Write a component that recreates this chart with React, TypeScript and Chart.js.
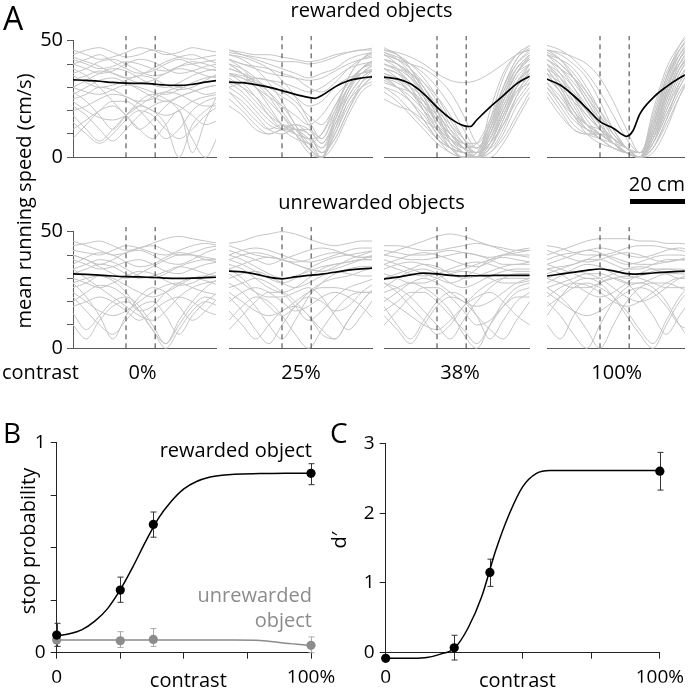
import React, { useEffect, useRef } from "react";
import { Chart, registerables } from "chart.js";

Chart.register(...registerables);
Chart.defaults.font.family = "'Open Sans', sans-serif";

// ---------------- Panel A data ----------------
const traceCm = [-20, -15, -10, -5, 0, 5, 10, 15, 20, 25, 30, 35];
const meanCm = [-20, -15, -10, -5, 0, 5, 10, 12.5, 15, 20, 25, 30, 35];
const objectEdgesCm = [0, 11];
const dashTop = 52;
const contrastNames = ["0%", "25%", "38%", "100%"];
const speedTickLabels = [0, 50];

const rewMean0 = [33.2, 33.0, 32.6, 32.1, 31.8, 31.7, 31.5, 31.2, 31.0, 30.8, 31.3, 32.2, 33.0];
const rewMean25 = [32.2, 32.0, 31.2, 30.1, 28.6, 27.0, 25.7, 25.3, 26.5, 30.2, 32.8, 34.0, 34.6];
const rewMean38 = [34.4, 33.6, 31.5, 27.2, 21.5, 16.7, 13.6, 13.2, 16.0, 21.5, 26.4, 31.5, 34.8];
const rewMean100 = [33.5, 31.0, 26.5, 21.0, 15.3, 12.5, 9.0, 11.5, 18.5, 25.5, 30.2, 34.0, 37.0];
const unrMean0 = [31.9, 31.7, 31.4, 31.0, 30.7, 30.6, 30.4, 30.3, 30.1, 30.0, 30.1, 30.3, 30.5];
const unrMean25 = [33.1, 32.8, 31.8, 30.5, 29.8, 30.6, 31.3, 31.5, 31.8, 32.6, 33.5, 34.1, 34.4];
const unrMean38 = [29.7, 30.5, 31.5, 32.2, 31.9, 31.3, 31.0, 31.1, 31.1, 31.2, 31.3, 31.3, 31.3];
const unrMean100 = [31.0, 31.8, 32.6, 33.4, 34.0, 33.2, 32.0, 31.8, 31.9, 32.3, 32.7, 33.0, 33.2];

const rewTraces0 = [
  [44, 46, 47, 45, 43, 44, 46, 45, 43, 42, 43, 44],
  [40, 38, 36, 37, 40, 42, 41, 38, 36, 37, 39, 40],
  [36, 38, 41, 42, 40, 37, 35, 36, 39, 41, 40, 38],
  [30, 28, 27, 29, 31, 30, 28, 27, 29, 32, 34, 35],
  [25, 27, 30, 29, 26, 24, 25, 28, 30, 29, 27, 28],
  [20, 22, 25, 27, 26, 23, 20, 18, 20, 24, 26, 27],
  [15, 10, 6, 10, 16, 20, 18, 12, 8, 12, 18, 22],
  [38, 35, 30, 24, 18, 12, 16, 22, 26, 28, 30, 31],
  [46, 44, 42, 43, 45, 47, 46, 44, 45, 47, 46, 45],
  [33, 35, 37, 36, 34, 32, 33, 36, 38, 37, 35, 34],
  [28, 24, 18, 12, 18, 24, 27, 25, 20, 8, 0, 10],
  [22, 18, 12, 7, 12, 18, 22, 24, 22, 18, 14, 16],
  [42, 40, 38, 39, 41, 40, 38, 37, 39, 40, 41, 42],
  [18, 12, 7, 12, 18, 22, 20, 14, 0, 14, 20, 24],
  [35, 32, 30, 31, 33, 35, 34, 31, 29, 30, 33, 36],
  [27, 30, 33, 34, 32, 29, 26, 24, 26, 28, 30, 31],
  [12, 16, 20, 22, 18, 12, 8, 14, 20, 2, 16, 28],
  [40, 42, 44, 41, 38, 36, 37, 40, 42, 40, 38, 37],
  [30, 33, 36, 38, 37, 34, 31, 30, 32, 35, 37, 38],
  [24, 20, 17, 16, 18, 22, 26, 28, 27, 24, 22, 22],
  [43, 41, 39, 36, 34, 35, 38, 41, 43, 44, 42, 40],
  [8, 14, 20, 24, 24, 20, 14, 8, 12, 20, 24, 26],
];

const rewTraces25 = [
  [45, 44, 43, 42, 41, 41, 40, 41, 43, 45, 46, 46],
  [42, 40, 38, 36, 35, 34, 33, 34, 37, 40, 42, 43],
  [38, 36, 34, 33, 32, 30, 28, 30, 34, 38, 40, 41],
  [35, 34, 30, 26, 22, 18, 14, 18, 26, 32, 36, 38],
  [40, 36, 30, 24, 18, 12, 6, 10, 22, 32, 38, 40],
  [32, 28, 22, 16, 12, 10, 4, 0, 14, 26, 34, 38],
  [30, 26, 20, 14, 12, 12, 10, 2, 10, 24, 32, 36],
  [44, 42, 38, 32, 24, 14, 6, 0, 12, 28, 38, 42],
  [36, 32, 26, 18, 12, 8, 6, 2, 8, 20, 30, 35],
  [28, 22, 16, 12, 14, 12, 8, 0, 6, 18, 28, 32],
  [46, 45, 44, 44, 43, 42, 41, 42, 44, 45, 46, 47],
  [38, 36, 32, 28, 22, 14, 4, 0, 16, 30, 38, 42],
  [25, 20, 14, 10, 12, 14, 10, 4, 12, 24, 30, 33],
  [42, 40, 39, 38, 36, 34, 30, 28, 32, 38, 42, 44],
  [34, 30, 24, 18, 14, 10, 4, 0, 10, 22, 30, 36],
  [30, 32, 34, 33, 30, 26, 22, 24, 30, 34, 36, 37],
  [40, 38, 34, 28, 20, 12, 8, 10, 20, 30, 36, 40],
  [22, 18, 12, 10, 12, 14, 12, 6, 14, 26, 34, 38],
  [44, 43, 41, 38, 33, 26, 16, 8, 20, 34, 42, 46],
  [36, 35, 33, 30, 28, 24, 18, 14, 22, 32, 38, 41],
  [40, 36, 30, 22, 14, 10, 8, 4, 16, 30, 38, 42],
  [33, 30, 26, 20, 14, 12, 10, 2, 8, 20, 32, 38],
  [46, 44, 42, 40, 38, 36, 34, 36, 38, 42, 44, 45],
  [28, 24, 18, 12, 10, 12, 12, 8, 18, 30, 36, 38],
  [42, 38, 32, 26, 18, 10, 2, 0, 18, 34, 42, 45],
  [36, 34, 32, 30, 26, 22, 14, 6, 16, 28, 36, 40],
];

const rewTraces38 = [
  [46, 45, 43, 40, 36, 33, 32, 33, 36, 40, 44, 46],
  [42, 40, 35, 28, 18, 8, 2, 0, 10, 26, 38, 44],
  [45, 42, 36, 26, 14, 4, 0, 2, 14, 30, 42, 47],
  [38, 34, 28, 20, 12, 6, 2, 0, 8, 22, 34, 40],
  [35, 30, 24, 16, 8, 2, 0, 0, 6, 18, 30, 36],
  [44, 42, 38, 32, 24, 14, 6, 2, 10, 24, 36, 43],
  [30, 26, 20, 14, 8, 4, 2, 0, 4, 16, 28, 35],
  [40, 38, 34, 28, 20, 10, 4, 0, 12, 28, 40, 46],
  [47, 44, 38, 30, 20, 10, 4, 2, 8, 20, 32, 40],
  [33, 30, 26, 20, 14, 8, 4, 2, 6, 14, 24, 32],
  [42, 38, 30, 20, 10, 4, 2, 0, 10, 24, 36, 42],
  [36, 34, 30, 26, 20, 14, 8, 4, 10, 24, 36, 44],
  [28, 24, 18, 12, 6, 2, 0, 0, 6, 20, 32, 38],
  [45, 43, 40, 36, 30, 22, 12, 4, 14, 30, 42, 48],
  [38, 36, 32, 24, 14, 6, 2, 0, 4, 14, 26, 34],
  [32, 30, 28, 24, 18, 12, 6, 2, 8, 20, 30, 36],
  [44, 40, 34, 26, 16, 8, 4, 6, 16, 30, 40, 45],
  [25, 22, 20, 16, 12, 8, 4, 0, 6, 18, 28, 32],
  [40, 37, 32, 24, 16, 10, 6, 4, 12, 26, 38, 44],
  [46, 44, 40, 34, 26, 16, 8, 2, 6, 18, 30, 38],
  [34, 32, 28, 22, 16, 10, 6, 6, 14, 28, 38, 42],
  [42, 40, 36, 30, 22, 12, 4, 0, 2, 10, 22, 30],
  [38, 36, 30, 22, 12, 4, 0, 0, 2, 8, 18, 28],
  [44, 42, 40, 38, 34, 28, 18, 6, 4, 12, 26, 38],
  [30, 28, 24, 18, 10, 4, 0, 2, 12, 26, 36, 40],
  [46, 44, 38, 28, 18, 8, 2, 0, 16, 34, 44, 48],
  [40, 38, 36, 32, 26, 18, 8, 0, 0, 6, 16, 26],
  [36, 33, 28, 22, 16, 10, 4, 0, 20, 36, 44, 46],
  [42, 40, 36, 30, 20, 6, 0, 0, 4, 16, 30, 40],
  [34, 30, 24, 16, 8, 4, 2, 2, 10, 22, 32, 38],
];

const rewTraces100 = [
  [44, 40, 34, 26, 18, 10, 4, 0, 10, 28, 42, 50],
  [40, 34, 26, 18, 12, 6, 2, 0, 8, 26, 40, 48],
  [36, 28, 18, 12, 10, 6, 2, 0, 12, 30, 44, 52],
  [45, 42, 36, 28, 18, 8, 2, 0, 6, 22, 36, 46],
  [30, 22, 14, 10, 8, 6, 4, 0, 10, 26, 38, 46],
  [42, 38, 32, 24, 14, 6, 2, 0, 14, 32, 46, 54],
  [38, 30, 20, 12, 8, 4, 2, 2, 16, 34, 46, 52],
  [34, 28, 20, 14, 10, 6, 2, 0, 6, 20, 34, 42],
  [46, 44, 40, 34, 24, 12, 4, 0, 8, 24, 38, 46],
  [28, 20, 12, 10, 10, 8, 4, 0, 10, 28, 42, 50],
  [40, 36, 30, 22, 14, 8, 4, 2, 8, 20, 32, 40],
  [44, 42, 38, 30, 20, 10, 4, 0, 18, 36, 46, 52],
  [32, 26, 18, 12, 8, 4, 2, 0, 4, 16, 28, 36],
  [42, 36, 26, 16, 10, 6, 2, 0, 10, 28, 42, 50],
  [38, 34, 28, 20, 12, 6, 2, 0, 12, 30, 42, 48],
  [46, 45, 43, 40, 34, 24, 12, 2, 6, 18, 30, 40],
  [26, 18, 12, 10, 10, 8, 4, 2, 14, 32, 44, 50],
  [40, 32, 22, 14, 10, 6, 2, 0, 8, 24, 38, 46],
  [36, 32, 26, 20, 14, 8, 4, 0, 16, 34, 44, 50],
  [44, 38, 30, 20, 12, 6, 2, 0, 4, 14, 26, 36],
  [34, 30, 24, 18, 12, 8, 4, 2, 10, 26, 38, 44],
  [48, 46, 42, 36, 28, 18, 8, 2, 10, 28, 42, 50],
  [40, 34, 24, 14, 8, 4, 2, 0, 2, 12, 26, 38],
  [46, 42, 34, 24, 16, 10, 4, 0, 20, 38, 48, 54],
  [32, 24, 16, 12, 10, 6, 2, 0, 8, 22, 36, 44],
  [44, 40, 34, 26, 16, 6, 2, 0, 4, 16, 32, 44],
  [38, 30, 20, 14, 12, 8, 4, 0, 14, 30, 40, 46],
  [42, 38, 34, 28, 20, 12, 4, 0, 12, 34, 48, 56],
  [30, 24, 18, 14, 10, 6, 2, 0, 6, 18, 30, 40],
  [36, 28, 18, 10, 6, 4, 2, 0, 10, 26, 40, 48],
];

const unrTraces0 = [
  [44, 45, 46, 44, 42, 43, 45, 47, 48, 47, 46, 45],
  [40, 38, 36, 38, 41, 42, 40, 37, 36, 38, 41, 43],
  [36, 39, 41, 40, 37, 35, 36, 39, 41, 40, 38, 37],
  [30, 28, 26, 28, 31, 33, 32, 29, 27, 28, 31, 33],
  [26, 28, 31, 30, 27, 24, 22, 24, 27, 30, 31, 30],
  [20, 24, 27, 26, 22, 16, 18, 24, 28, 30, 29, 27],
  [15, 8, 14, 20, 22, 18, 10, 2, 10, 18, 22, 20],
  [34, 30, 26, 22, 18, 14, 12, 16, 22, 26, 28, 29],
  [22, 16, 10, 6, 12, 18, 20, 14, 6, 14, 20, 24],
  [42, 41, 40, 42, 44, 43, 41, 40, 42, 44, 45, 44],
  [28, 22, 14, 4, 14, 22, 26, 24, 18, 12, 16, 22],
  [38, 36, 34, 35, 37, 38, 36, 33, 32, 34, 36, 37],
  [10, 4, 12, 18, 20, 16, 8, 0, 8, 16, 20, 18],
  [32, 34, 36, 35, 32, 30, 31, 33, 35, 34, 32, 31],
  [18, 20, 22, 20, 16, 12, 16, 20, 22, 20, 16, 14],
  [46, 44, 42, 40, 41, 43, 44, 42, 40, 41, 43, 44],
  [34, 36, 38, 37, 34, 31, 30, 32, 35, 37, 38, 38],
  [24, 20, 16, 14, 16, 20, 24, 27, 28, 26, 24, 23],
  [40, 38, 35, 32, 30, 32, 35, 38, 40, 40, 39, 38],
  [28, 30, 31, 29, 24, 16, 8, 2, 12, 20, 26, 30],
];

const unrTraces25 = [
  [45, 46, 48, 49, 50, 49, 47, 45, 44, 45, 46, 46],
  [42, 40, 38, 36, 38, 40, 42, 43, 42, 40, 39, 40],
  [38, 36, 33, 30, 28, 30, 34, 37, 39, 40, 41, 42],
  [34, 30, 24, 18, 14, 18, 24, 28, 30, 31, 33, 35],
  [28, 24, 18, 10, 4, 12, 22, 28, 32, 34, 35, 35],
  [22, 16, 8, 2, 10, 18, 22, 20, 16, 18, 24, 28],
  [40, 42, 43, 42, 40, 38, 37, 38, 40, 42, 43, 43],
  [30, 32, 33, 31, 28, 26, 28, 31, 33, 32, 31, 31],
  [16, 10, 4, 10, 16, 18, 14, 6, 4, 12, 20, 26],
  [36, 34, 30, 26, 24, 26, 30, 34, 36, 37, 38, 38],
  [44, 42, 40, 39, 38, 36, 34, 33, 35, 38, 40, 42],
  [26, 28, 30, 28, 24, 18, 12, 16, 22, 26, 28, 30],
  [12, 18, 22, 20, 14, 6, 0, 8, 16, 22, 24, 24],
  [32, 28, 24, 22, 22, 24, 26, 22, 14, 8, 14, 22],
  [38, 40, 41, 40, 38, 37, 38, 40, 41, 40, 39, 39],
  [20, 24, 26, 24, 20, 16, 18, 22, 24, 22, 18, 12],
  [34, 36, 38, 39, 38, 36, 34, 33, 34, 36, 38, 40],
  [24, 20, 16, 14, 16, 20, 24, 26, 26, 25, 24, 24],
  [40, 38, 35, 32, 30, 31, 33, 35, 36, 37, 38, 38],
  [8, 14, 20, 24, 24, 20, 14, 8, 4, 12, 20, 26],
];

const unrTraces38 = [
  [40, 42, 44, 46, 48, 49, 48, 46, 44, 42, 40, 39],
  [36, 38, 40, 41, 40, 38, 36, 35, 37, 40, 42, 43],
  [30, 32, 34, 36, 35, 32, 30, 31, 33, 35, 36, 36],
  [26, 30, 33, 34, 32, 28, 26, 28, 31, 33, 34, 34],
  [22, 18, 14, 10, 8, 12, 18, 22, 24, 20, 14, 10],
  [18, 10, 4, 12, 20, 24, 22, 14, 4, 12, 20, 24],
  [34, 36, 37, 36, 34, 33, 34, 36, 38, 39, 38, 37],
  [28, 26, 22, 16, 10, 4, 12, 20, 26, 30, 32, 32],
  [14, 8, 2, 10, 18, 22, 20, 14, 8, 4, 12, 20],
  [42, 41, 40, 40, 41, 42, 41, 40, 39, 40, 41, 42],
  [38, 36, 34, 32, 30, 28, 30, 34, 38, 40, 40, 40],
  [24, 26, 28, 26, 22, 16, 6, 0, 10, 20, 26, 28],
  [10, 16, 22, 26, 26, 22, 16, 10, 12, 18, 22, 22],
  [32, 30, 28, 28, 30, 32, 33, 32, 30, 28, 28, 29],
  [20, 24, 28, 30, 28, 24, 20, 18, 20, 24, 28, 30],
  [44, 44, 43, 42, 42, 43, 44, 45, 44, 43, 42, 42],
  [36, 34, 32, 31, 32, 34, 36, 37, 36, 34, 33, 33],
  [28, 24, 18, 12, 6, 10, 18, 24, 28, 30, 30, 30],
  [40, 39, 38, 38, 39, 40, 41, 40, 38, 36, 36, 37],
  [16, 20, 24, 24, 20, 14, 8, 2, 10, 18, 24, 26],
];

const unrTraces100 = [
  [40, 42, 44, 46, 47, 47, 47, 46, 46, 45, 45, 44],
  [36, 38, 40, 42, 41, 38, 36, 37, 39, 40, 40, 39],
  [32, 34, 36, 38, 38, 36, 34, 34, 36, 38, 38, 37],
  [28, 31, 34, 36, 35, 32, 30, 31, 33, 34, 34, 33],
  [20, 14, 6, 0, 10, 20, 26, 28, 26, 20, 10, 2],
  [26, 28, 30, 32, 32, 30, 28, 28, 30, 32, 32, 31],
  [14, 22, 28, 30, 28, 22, 14, 6, 0, 10, 20, 26],
  [34, 35, 36, 38, 40, 39, 37, 36, 36, 37, 38, 38],
  [24, 20, 16, 14, 16, 20, 24, 26, 24, 18, 10, 8],
  [38, 40, 41, 42, 43, 42, 40, 39, 40, 42, 43, 42],
  [30, 32, 33, 32, 30, 26, 22, 20, 22, 26, 30, 32],
  [18, 22, 26, 28, 26, 22, 16, 8, 2, 12, 22, 28],
  [42, 40, 38, 37, 38, 40, 41, 40, 38, 37, 38, 40],
  [10, 4, 14, 22, 28, 30, 28, 22, 14, 6, 14, 22],
  [36, 34, 32, 30, 30, 32, 34, 35, 34, 32, 30, 30],
  [22, 26, 28, 27, 24, 20, 18, 20, 24, 28, 30, 30],
  [44, 43, 41, 40, 40, 41, 43, 44, 44, 43, 42, 41],
  [30, 28, 26, 26, 28, 30, 31, 30, 28, 26, 26, 27],
  [26, 22, 16, 8, 0, 10, 20, 26, 28, 28, 26, 24],
  [34, 32, 28, 24, 22, 24, 28, 32, 34, 34, 33, 32],
];

// ---------------- Panel B / C data ----------------
const contrastLevels = [0, 25, 38, 100];
const stopRewarded = [0.084, 0.298, 0.611, 0.854];
const stopRewardedLo = [0.03, 0.24, 0.55, 0.8];
const stopRewardedHi = [0.14, 0.36, 0.67, 0.9];
const stopUnrewarded = [0.06, 0.057, 0.063, 0.035];
const stopUnrewardedLo = [0.03, 0.025, 0.03, 0.0];
const stopUnrewardedHi = [0.09, 0.1, 0.115, 0.075];
const stopFitX = [0, 5, 10, 15, 20, 25, 30, 35, 40, 45, 50, 55, 60, 65, 70, 80, 90, 100];
const stopFitRewarded = [0.08, 0.09, 0.11, 0.15, 0.21, 0.3, 0.41, 0.53, 0.64, 0.72, 0.78, 0.815, 0.835, 0.845, 0.85, 0.853, 0.855, 0.855];
const stopFitUnrewarded = [0.06, 0.06, 0.06, 0.06, 0.06, 0.06, 0.06, 0.06, 0.06, 0.06, 0.06, 0.06, 0.06, 0.06, 0.06, 0.058, 0.045, 0.035];

const dPrime = [-0.08, 0.07, 1.15, 2.6];
const dPrimeLo = [-0.08, -0.105, 0.95, 2.33];
const dPrimeHi = [-0.08, 0.25, 1.34, 2.87];
const dFitX = [0, 5, 10, 15, 20, 25, 30, 35, 40, 45, 50, 55, 60, 70, 80, 90, 100];
const dFit = [-0.08, -0.08, -0.08, -0.07, -0.02, 0.06, 0.35, 0.8, 1.45, 1.98, 2.38, 2.57, 2.61, 2.61, 2.61, 2.61, 2.61];

// ---------------- layout ----------------
const ROW_TOP = [40.7, 231.7];
const ROW_BOTTOM = [157.3, 348.3];
const COL_ZERO_PX = [126, 282, 437, 600];
const PX_PER_CM = 2.65;
const COL_XMIN = [-20, -20, -20, -20];
const COL_XMAX = [34, 34, 35, 32];
const Y_AXIS_W = 44;

const GRAY_TRACE = "#c4c4c4";
const AXIS_A = "#5a5a5a";
const AXIS_BC = "#222";
const GRAY_B = "#8c8c8c";

const panels = [
  { row: 0, col: 0, traces: rewTraces0, mean: rewMean0 },
  { row: 0, col: 1, traces: rewTraces25, mean: rewMean25 },
  { row: 0, col: 2, traces: rewTraces38, mean: rewMean38 },
  { row: 0, col: 3, traces: rewTraces100, mean: rewMean100 },
  { row: 1, col: 0, traces: unrTraces0, mean: unrMean0 },
  { row: 1, col: 1, traces: unrTraces25, mean: unrMean25 },
  { row: 1, col: 2, traces: unrTraces38, mean: unrMean38 },
  { row: 1, col: 3, traces: unrTraces100, mean: unrMean100 },
];

function speedGeom(row: number, col: number) {
  const L = COL_ZERO_PX[col] + COL_XMIN[col] * PX_PER_CM;
  const R = COL_ZERO_PX[col] + COL_XMAX[col] * PX_PER_CM;
  const T = ROW_TOP[row];
  const B = ROW_BOTTOM[row];
  const left = col === 0 ? 0 : Math.floor(L) - 6;
  const right = col === 3 ? 691 : Math.ceil(R) + 6;
  const top = Math.floor(T) - 22;
  const bottom = Math.ceil(B) + 16;
  return {
    left,
    top,
    width: right - left,
    height: bottom - top,
    pad: { left: L - left - (col === 0 ? Y_AXIS_W : 0), right: right - R, top: T - top, bottom: bottom - B },
  };
}

const errorBarPlugin = {
  id: "errorBars",
  beforeDatasetsDraw(chart: any, _args: any, opts: any) {
    const groups = opts && opts.groups;
    if (!groups) return;
    const ctx = chart.ctx;
    const xs = chart.scales.x;
    const ys = chart.scales.y;
    ctx.save();
    for (const g of groups) {
      ctx.strokeStyle = g.color;
      ctx.lineWidth = 1;
      g.x.forEach((xv: number, i: number) => {
        const lo = g.lo[i];
        const hi = g.hi[i];
        if (hi - lo < 1e-6) return;
        const px = Math.round(xs.getPixelForValue(xv)) + 0.5;
        const p1 = ys.getPixelForValue(lo);
        const p2 = ys.getPixelForValue(hi);
        ctx.beginPath();
        ctx.moveTo(px, p1);
        ctx.lineTo(px, p2);
        ctx.moveTo(px - 3, p1);
        ctx.lineTo(px + 3, p1);
        ctx.moveTo(px - 3, p2);
        ctx.lineTo(px + 3, p2);
        ctx.stroke();
      });
    }
    ctx.restore();
  },
};

const traceClip = { left: 0, right: 0, top: false, bottom: false };

function speedConfig(p: any) {
  const g = speedGeom(p.row, p.col);
  const datasets: any[] = [];
  datasets.push({
    data: meanCm.map((x, i) => ({ x, y: p.mean[i] })),
    borderColor: "#000",
    borderWidth: 1.7,
    pointRadius: 0,
    cubicInterpolationMode: "monotone",
    clip: traceClip,
    order: 0,
  });
  objectEdgesCm.forEach((x) =>
    datasets.push({
      data: [{ x, y: 0 }, { x, y: dashTop }],
      borderColor: "#3a3a3a",
      borderWidth: 1,
      borderDash: [5, 4],
      pointRadius: 0,
      clip: false,
      order: 1,
    })
  );
  p.traces.forEach((t: number[]) =>
    datasets.push({
      data: traceCm.map((x, i) => ({ x, y: t[i] })),
      borderColor: GRAY_TRACE,
      borderWidth: 1,
      pointRadius: 0,
      cubicInterpolationMode: "monotone",
      clip: traceClip,
      order: 2,
    })
  );
  const showY = p.col === 0;
  return {
    type: "line",
    data: { datasets },
    options: {
      responsive: false,
      animation: false,
      devicePixelRatio: 1,
      events: [],
      layout: { padding: g.pad },
      plugins: { legend: { display: false }, tooltip: { enabled: false } },
      scales: {
        x: {
          type: "linear",
          min: COL_XMIN[p.col],
          max: COL_XMAX[p.col],
          grid: { display: false },
          ticks: { display: false },
          border: { display: true, color: AXIS_A, width: 1 },
          afterFit: (s: any) => {
            s.height = 0;
          },
        },
        y: {
          type: "linear",
          min: 0,
          max: 50,
          display: showY,
          grid: { display: true, drawOnChartArea: false, drawTicks: true, tickLength: 6, color: AXIS_A },
          border: { display: true, color: AXIS_A, width: 1 },
          ticks: {
            stepSize: 10,
            autoSkip: false,
            padding: 4,
            color: "#000",
            font: { size: 20 },
            callback: (v: number) => (speedTickLabels.includes(v) ? String(v) : ""),
          },
          afterFit: (s: any) => {
            s.width = showY ? Y_AXIS_W : 0;
          },
        },
      },
    },
  };
}

function bcAxes(yMax: number, yStep: number, yLabel: (v: number) => string) {
  return {
    x: {
      type: "linear",
      min: 0,
      max: 100,
      grid: { display: true, drawOnChartArea: false, drawTicks: true, tickLength: 6, color: AXIS_BC },
      border: { display: true, color: AXIS_BC, width: 1 },
      ticks: {
        stepSize: 25,
        autoSkip: false,
        maxRotation: 0,
        padding: 7,
        color: "#000",
        font: { size: 19 },
        callback: (v: number) => (v === 0 ? "0" : v === 100 ? "100%" : ""),
      },
      afterFit: (s: any) => {
        s.height = 30;
      },
    },
    y: {
      type: "linear",
      min: 0,
      max: yMax,
      grid: { display: true, drawOnChartArea: false, drawTicks: true, tickLength: 6, color: AXIS_BC },
      border: { display: true, color: AXIS_BC, width: 1 },
      ticks: { stepSize: yStep, autoSkip: false, padding: 5, color: "#000", font: { size: 19 }, callback: yLabel },
      afterFit: (s: any) => {
        s.width = 30;
      },
    },
  };
}

function lineDs(xs: number[], ys: number[], color: string, order: number) {
  return {
    data: xs.map((x, i) => ({ x, y: ys[i] })),
    borderColor: color,
    borderWidth: 1.5,
    pointRadius: 0,
    cubicInterpolationMode: "monotone",
    clip: false,
    order,
  };
}

function dotDs(xs: number[], ys: number[], color: string, order: number) {
  return {
    data: xs.map((x, i) => ({ x, y: ys[i] })),
    showLine: false,
    pointRadius: 4.6,
    pointHoverRadius: 14,
    pointBackgroundColor: color,
    pointBorderWidth: 0,
    borderColor: color,
    clip: false,
    order,
  };
}

function stopConfig() {
  return {
    type: "line",
    data: {
      datasets: [
        dotDs(contrastLevels, stopRewarded, "#000", 0),
        dotDs(contrastLevels, stopUnrewarded, GRAY_B, 1),
        lineDs(stopFitX, stopFitRewarded, "#000", 2),
        lineDs(stopFitX, stopFitUnrewarded, GRAY_B, 3),
      ],
    },
    plugins: [errorBarPlugin],
    options: {
      responsive: false,
      animation: false,
      devicePixelRatio: 1,
      events: [],
      layout: { padding: { left: 26.7, right: 34, top: 42.7, bottom: 10.3 } },
      plugins: {
        legend: { display: false },
        tooltip: { enabled: false },
        errorBars: {
          groups: [
            { x: contrastLevels, lo: stopUnrewardedLo, hi: stopUnrewardedHi, color: "#a8a8a8" },
            { x: contrastLevels, lo: stopRewardedLo, hi: stopRewardedHi, color: "#333" },
          ],
        },
      },
      scales: bcAxes(1, 0.25, (v: number) => (v === 0 || v === 1 ? String(v) : "")),
    },
  };
}

function dprimeConfig() {
  return {
    type: "line",
    data: {
      datasets: [dotDs(contrastLevels, dPrime, "#000", 0), lineDs(dFitX, dFit, "#000", 1)],
    },
    plugins: [errorBarPlugin],
    options: {
      responsive: false,
      animation: false,
      devicePixelRatio: 1,
      events: [],
      layout: { padding: { left: 10.7, right: 26, top: 43.3, bottom: 10.3 } },
      plugins: {
        legend: { display: false },
        tooltip: { enabled: false },
        errorBars: { groups: [{ x: contrastLevels, lo: dPrimeLo, hi: dPrimeHi, color: "#333" }] },
      },
      scales: bcAxes(3, 1, (v: number) => String(v)),
    },
  };
}

function ChartCanvas(props: { left: number; top: number; width: number; height: number; make: () => any }) {
  const ref = useRef<HTMLCanvasElement>(null);
  useEffect(() => {
    const chart = new Chart(ref.current as HTMLCanvasElement, props.make());
    return () => chart.destroy();
  }, []);
  return (
    <canvas
      ref={ref}
      width={props.width}
      height={props.height}
      style={{ position: "absolute", left: props.left, top: props.top, width: props.width, height: props.height }}
    />
  );
}

const ASC = 0.888;

function Txt(props: {
  x: number;
  y: number;
  text: string;
  size?: number;
  align?: "left" | "center" | "right";
  color?: string;
}) {
  const size = props.size || 20;
  const align = props.align || "left";
  const tx = align === "left" ? "0" : align === "center" ? "-50%" : "-100%";
  return (
    <div
      style={{
        position: "absolute",
        left: props.x,
        top: props.y - ASC * size,
        fontSize: size,
        lineHeight: 1,
        whiteSpace: "nowrap",
        color: props.color || "#000",
        transform: `translateX(${tx})`,
      }}
    >
      {props.text}
    </div>
  );
}

function VTxt(props: { cx: number; cy: number; text: string; size?: number }) {
  const size = props.size || 20;
  return (
    <div
      style={{
        position: "absolute",
        left: props.cx,
        top: props.cy,
        fontSize: size,
        lineHeight: 1,
        whiteSpace: "nowrap",
        transform: "translate(-50%, -50%) rotate(-90deg)",
      }}
    >
      {props.text}
    </div>
  );
}

const contrastLabelX = [142.5, 301, 460, 616.7];

export default function App() {
  return (
    <div
      style={{
        position: "absolute",
        left: 0,
        top: 0,
        width: 691,
        height: 693,
        overflow: "hidden",
        background: "#fff",
        fontFamily: "'Open Sans', sans-serif",
        color: "#000",
      }}
    >
      {panels.map((p, i) => {
        const g = speedGeom(p.row, p.col);
        return <ChartCanvas key={i} left={g.left} top={g.top} width={g.width} height={g.height} make={() => speedConfig(p)} />;
      })}
      <ChartCanvas left={0} top={400} width={345} height={293} make={stopConfig} />
      <ChartCanvas left={345} top={400} width={346} height={293} make={dprimeConfig} />

      <Txt x={3} y={30} text="A" size={32} />
      <Txt x={371.5} y={18} text="rewarded objects" align="center" />
      <Txt x={371.5} y={210} text="unrewarded objects" align="center" />
      <Txt x={685} y={192} text="20 cm" align="right" />
      <div style={{ position: "absolute", left: 630, top: 199, width: 55, height: 5, background: "#000" }} />
      <VTxt cx={23.7} cy={201} text="mean running speed (cm/s)" />
      <Txt x={2} y={380} text="contrast" />
      {contrastNames.map((c, i) => (
        <Txt key={c} x={contrastLabelX[i]} y={380} text={c} align="center" />
      ))}

      <Txt x={3} y={443} text="B" size={28} />
      <Txt x={330} y={443} text="C" size={28} />
      <VTxt cx={28} cy={541} text="stop probability" />
      <VTxt cx={339} cy={540} text={"d\u2032"} />
      <Txt x={312} y={458} text="rewarded object" align="right" />
      <Txt x={312} y={603} text="unrewarded" align="right" color={GRAY_B} />
      <Txt x={312} y={628} text="object" align="right" color={GRAY_B} />
      <Txt x={188.3} y={688} text="contrast" align="center" />
      <Txt x={517.5} y={688} text="contrast" align="center" />
    </div>
  );
}
